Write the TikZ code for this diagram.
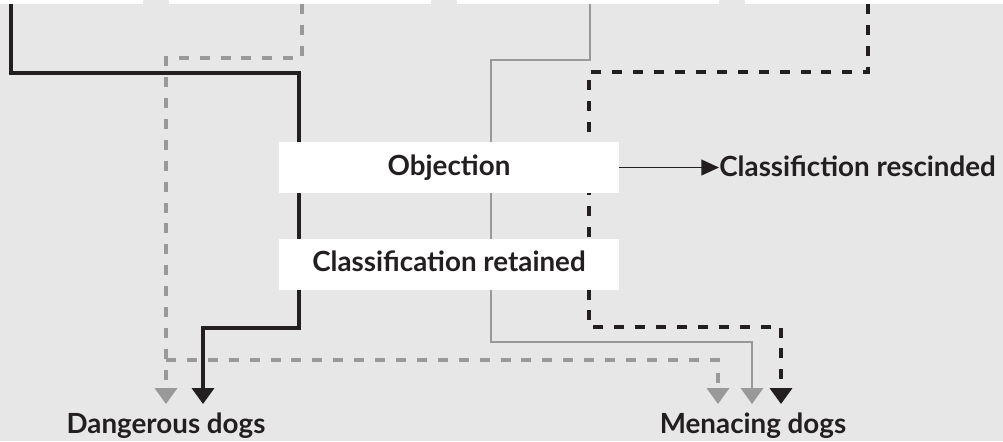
\documentclass[tikz,border=0pt]{standalone}
\usepackage{fontspec}
\setmainfont{Lato}
\usepackage{tikz}
\usepackage{xcolor}
\usetikzlibrary{arrows.meta}

\definecolor{panelgrey}{HTML}{E6E7E6}
\definecolor{routegrey}{HTML}{999999}
\definecolor{inkblack}{HTML}{231F20}

\begin{document}
\begin{tikzpicture}[x=0.02cm, y=-0.02cm,
  font=\bfseries\fontsize{15.8}{18}\selectfont, text=inkblack,
  topbox/.style={fill=white, inner sep=0pt, minimum width=5.24cm, minimum height=0.8cm, anchor=south},
  stagebox/.style={fill=white, inner sep=0pt, minimum width=6.8cm, minimum height=1.02cm,
    text height=0.4cm, text depth=0.1cm},
  downtip/.style={-{Triangle[width=12.5pt,length=9pt]}},
  blacksolid/.style={downtip, draw=inkblack, line width=1.8pt},
  blackdash/.style={downtip, draw=inkblack, line width=1.9pt, dash pattern=on 5.7pt off 6.2pt},
  greysolid/.style={downtip, draw=routegrey, line width=1.5pt},
  greydash/.style={downtip, draw=routegrey, line width=1.8pt, dash pattern=on 5.7pt off 6.2pt}]

  \useasboundingbox (0,0) rectangle (1003,441);
  \fill[panelgrey] (0,0) rectangle (1003,441);
  \clip (0,0) rectangle (1003,441);

  % boxes above, cut off by the frame
  \foreach \n/\x in {tb1/12, tb2/300, tb3/588, tb4/876}{
    \node[topbox] (\n) at (\x,4) {};
  }

  % outcomes
  \node[anchor=base, inner sep=0pt] (dang) at (166,433) {Dangerous dogs};
  \node[anchor=base, inner sep=0pt] (men) at (753,433) {Menacing dogs};
  \coordinate (dgA) at (166,404);
  \coordinate (dgB) at (203,404);
  \coordinate (mnA) at (718,404);
  \coordinate (mnB) at (752,404);
  \coordinate (mnC) at (781,404);

  % routes
  \draw[greydash] (tb2.south -| 302,0) |- (166,58) -- (dgA);
  \draw[greydash] (166,360) -| (mnA);
  \draw[blacksolid] (tb1.south -| 11,0) |- (299,73) |- (203,328) -- (dgB);
  \draw[greysolid] (tb3.south -| 590,0) |- (491,60) |- (752,342) -- (mnB);
  \draw[blackdash] (tb4.south -| 868,0) |- (589,72) |- (781,327) -- (mnC);

  % stages
  \node[stagebox] (obj) at (449,167.5) {Objection};
  \node[stagebox] (ret) at (449,264) {Classification retained};

  \node[anchor=west, inner sep=0pt] (resc) at (719,166) {Classifiction rescinded};
  \draw[inkblack, line width=0.7pt, -{Triangle[width=9pt,length=10pt]}]
    (obj.east) -- (obj.east -| resc.west);
\end{tikzpicture}
\end{document}
